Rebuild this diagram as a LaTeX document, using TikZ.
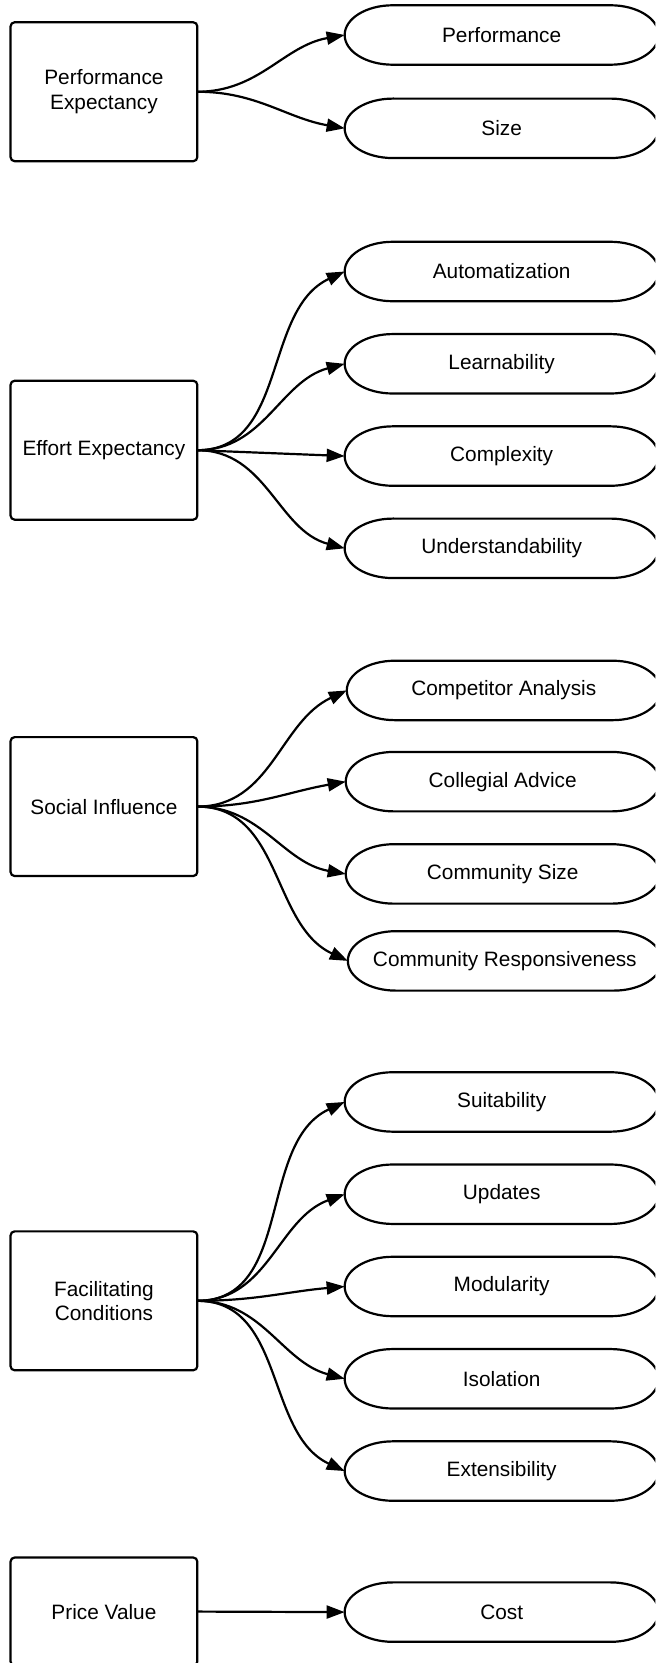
\documentclass[tikz,border=0pt]{standalone}
\usepackage{fontspec}
\setmainfont{Liberation Sans}
\usetikzlibrary{arrows.meta}
\tikzset{factor/.style={draw,line width=1.1pt,rounded corners=2pt,align=center,minimum width=93.3pt,minimum height=69.4pt,inner sep=0pt,outer sep=0pt},
  item/.style={minimum width=156.9pt,minimum height=29.7pt,inner sep=0pt,outer sep=0pt},
  arr/.style={-{Triangle[length=9pt,width=6.5pt]},line width=1.1pt}}
\newcommand{\pill}[1]{\draw[line width=1.1pt] ([xshift=24pt]#1.north west) -- ([xshift=-24pt]#1.north east)
  arc[start angle=90,end angle=-90,x radius=24pt,y radius=14.85pt] -- ([xshift=24pt]#1.south west)
  arc[start angle=270,end angle=90,x radius=24pt,y radius=14.85pt] -- cycle;}

\begin{document}
\begin{tikzpicture}[x=0.53pt,y=-0.53pt,font=\fontsize{10.4}{12.2}\selectfont]
\useasboundingbox (0,0) rectangle (618,1568);
\clip (0,0) rectangle (618,1568);
% performance expectancy
\node[factor] (pe) at (98,86.5) {Performance\\Expectancy};
\node[item] (perf) at (473,33) {Performance};
\node[item] (size) at (473,121) {Size};
\pill{perf} \pill{size}
\draw[arr] (pe.east) to[out=0,in=190] (perf.west);
\draw[arr] (pe.east) to[out=0,in=170] (size.west);
% effort expectancy
\node[factor] (ee) at (98,424.5) {Effort Expectancy};
\node[item] (auto) at (473,256) {Automatization};
\node[item] (learn) at (473,343) {Learnability};
\node[item] (compl) at (473,430) {Complexity};
\node[item] (under) at (473,517) {Understandability};
\pill{auto} \pill{learn} \pill{compl} \pill{under}
\draw[arr] (ee.east) to[out=0,in=205] (auto.west);
\draw[arr] (ee.east) to[out=0,in=195] (learn.west);
\draw[arr] (ee.east) -- (compl.west);
\draw[arr] (ee.east) to[out=0,in=165] (under.west);
% social influence
\node[factor] (si) at (98,760.5) {Social Influence};
\node[item] (comp) at (475,651) {Competitor Analysis};
\node[item] (coll) at (474,737) {Collegial Advice};
\node[item] (csize) at (474,824) {Community Size};
\node[item] (cresp) at (476,906) {Community Responsiveness};
\pill{comp} \pill{coll} \pill{csize} \pill{cresp}
\draw[arr] (si.east) to[out=0,in=205] (comp.west);
\draw[arr] (si.east) to[out=0,in=190] (coll.west);
\draw[arr] (si.east) to[out=0,in=170] (csize.west);
\draw[arr] (si.east) to[out=0,in=155] (cresp.west);
% facilitating conditions
\node[factor] (fc) at (98,1226.5) {Facilitating\\Conditions};
\node[item] (suit) at (473,1039) {Suitability};
\node[item] (upd) at (473,1126) {Updates};
\node[item] (mod) at (473,1213) {Modularity};
\node[item] (iso) at (473,1300) {Isolation};
\node[item] (ext) at (473,1387) {Extensibility};
\pill{suit} \pill{upd} \pill{mod} \pill{iso} \pill{ext}
\draw[arr] (fc.east) to[out=0,in=205] (suit.west);
\draw[arr] (fc.east) to[out=0,in=200] (upd.west);
\draw[arr] (fc.east) to[out=0,in=185] (mod.west);
\draw[arr] (fc.east) to[out=0,in=165] (iso.west);
\draw[arr] (fc.east) to[out=0,in=155] (ext.west);
% price value
\node[factor,minimum height=54pt] (pv) at (98,1519.5) {Price Value};
\node[item] (cost) at (473,1520) {Cost};
\pill{cost}
\draw[arr] (pv.east) -- (cost.west);
\end{tikzpicture}
\end{document}
